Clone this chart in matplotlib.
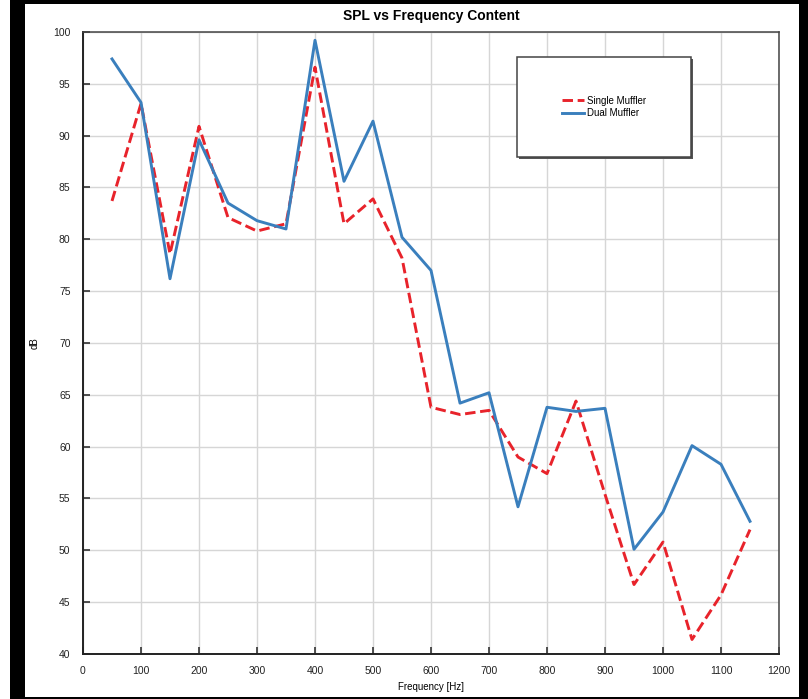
import matplotlib
matplotlib.use("Agg")
import matplotlib.pyplot as plt
from matplotlib.patches import Rectangle

plt.rcParams['font.family'] = ['Liberation Sans', 'DejaVu Sans']

# SPL readings per frequency band
freq = [50, 100, 150, 200, 250, 300, 350, 400, 450, 500, 550, 600,
        650, 700, 750, 800, 850, 900, 950, 1000, 1050, 1100, 1150]
single_muffler = [83.7, 93.1, 78.6, 90.9, 82.1, 80.8, 81.5, 96.6, 81.5, 83.9, 78.2, 63.8,
                  63.1, 63.5, 59.0, 57.4, 64.4, 55.4, 46.7, 50.8, 41.4, 45.7, 52.0]
dual_muffler = [97.4, 93.2, 76.2, 89.6, 83.5, 81.8, 81.0, 99.2, 85.6, 91.4, 80.2, 77.0,
                64.2, 65.2, 54.2, 63.8, 63.4, 63.7, 50.1, 53.7, 60.1, 58.3, 52.8]

W, H = 808, 699
fig = plt.figure(figsize=(W / 100, H / 100), dpi=100)
fig.patch.set_facecolor('white')


def px_rect(x0, y0, x1, y1, **kw):
    # rectangle given in pixel coordinates measured from the top-left corner
    r = Rectangle((x0 / W, 1 - y1 / H), (x1 - x0) / W, (y1 - y0) / H,
                  transform=fig.transFigure, **kw)
    fig.add_artist(r)
    return r


# dark window frame
px_rect(10, 0, 25, H, facecolor='black', edgecolor='none')
px_rect(10, 0, W, 4, facecolor='black', edgecolor='none')
px_rect(799, 0, W, H, facecolor='black', edgecolor='none')
px_rect(10, 697, W, H, facecolor='black', edgecolor='none')

ax = fig.add_axes([83 / W, 1 - 654 / H, (779 - 83) / W, (654 - 32) / H])

l1, = ax.plot(freq, single_muffler, color='#e8232b', lw=2.1, ls=(0, (3.6, 1.6)),
              label='Single Muffler', zorder=3)
l2, = ax.plot(freq, dual_muffler, color='#3a7fbd', lw=2.1, label='Dual Muffler', zorder=3)

ax.set_xlim(0, 1200)
ax.set_ylim(40, 100)
ax.set_xticks(range(0, 1201, 100))
ax.set_yticks(range(40, 101, 5))
ax.grid(True, color='#d6d6d6', lw=1.0)
ax.set_axisbelow(True)
ax.tick_params(direction='in', length=5, width=1.2, color='#333333',
               labelsize=7.5, labelcolor='#222222')
ax.tick_params(axis='y', pad=9)
ax.tick_params(axis='x', pad=9)
for s in ax.spines.values():
    s.set_color('#444444')
    s.set_linewidth(1.1)
for s in ('left', 'bottom'):
    ax.spines[s].set_color('#222222')
    ax.spines[s].set_linewidth(1.4)

fig.text(431 / W, 1 - 16 / H, 'SPL vs Frequency Content', ha='center', va='center',
         fontsize=10, fontweight='bold')
fig.text(431 / W, 1 - 687 / H, 'Frequency [Hz]', ha='center', va='center', fontsize=7)
fig.text(35 / W, 1 - 343 / H, 'dB', ha='center', va='center', fontsize=7, rotation=90)

# legend box with drop shadow
px_rect(519, 59, 693, 159, facecolor='#555555', edgecolor='none', zorder=4)
px_rect(517, 57, 691, 157, facecolor='white', edgecolor='#444444', lw=1.1, zorder=5)
leg = fig.legend(handles=[l1, l2], loc='center', bbox_to_anchor=(604 / W, 1 - 107 / H),
                 frameon=False, fontsize=7,
                 handlelength=2.2, handletextpad=0.3, labelspacing=0.25)
leg.set_zorder(6)

fig.savefig('out.png', dpi=100, facecolor=fig.get_facecolor())
